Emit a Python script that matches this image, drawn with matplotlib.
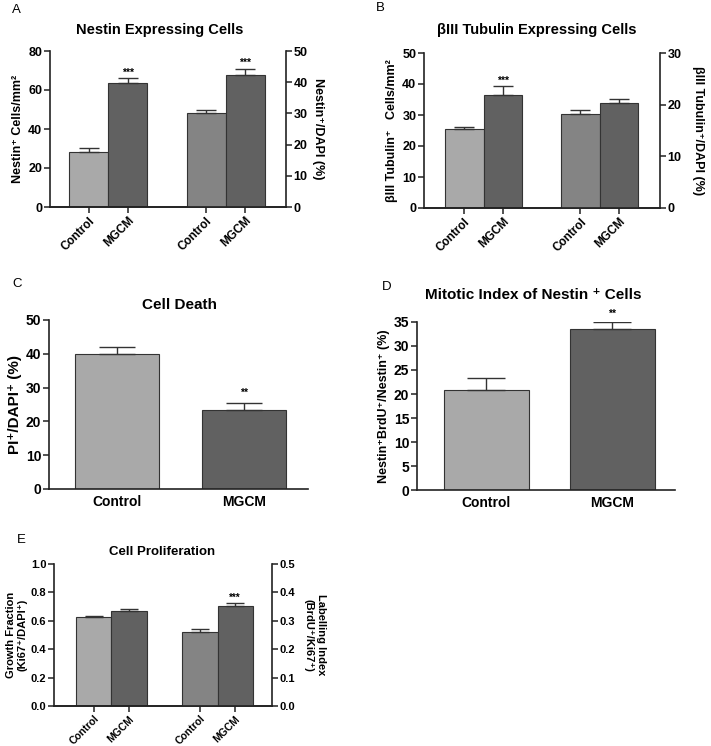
import matplotlib
matplotlib.use("Agg")
import matplotlib.pyplot as plt

plt.rcParams['font.family'] = ['Liberation Sans', 'DejaVu Sans']
plt.rcParams['font.weight'] = 'bold'
plt.rcParams['axes.labelweight'] = 'bold'

W, H = 711, 746

LIGHT = '#a9a9a9'
MID = '#848484'
DARK = '#616161'
EDGE = '#333333'

groups = ['Control', 'MGCM']

# A: Nestin expressing cells (left: cells/mm2, right: % of DAPI)
a_density = [28.0, 63.8]
a_density_err = [2.1, 2.1]
a_percent = [30.1, 42.4]
a_percent_err = [1.1, 1.9]

# B: beta III tubulin expressing cells
b_density = [25.4, 36.6]
b_density_err = [0.8, 2.6]
b_percent = [18.2, 20.3]
b_percent_err = [0.7, 0.8]

# C: cell death
c_values = [40.0, 23.4]
c_err = [2.1, 1.9]

# D: mitotic index of nestin+ cells
d_values = [20.9, 33.5]
d_err = [2.5, 1.4]

# E: cell proliferation (left: growth fraction, right: labelling index)
e_growth = [0.628, 0.671]
e_growth_err = [0.005, 0.011]
e_label = [0.260, 0.351]
e_label_err = [0.010, 0.010]


def px_axes(fig, x0, y0, x1, y1):
    return fig.add_axes([x0 / W, 1 - y1 / H, (x1 - x0) / W, (y1 - y0) / H])


def style(ax, right=False, size=9):
    ax.spines['top'].set_visible(False)
    for s in ['left', 'right', 'bottom']:
        ax.spines[s].set_linewidth(1.2)
        ax.spines[s].set_color('#222222')
    if right:
        ax.spines['left'].set_visible(False)
    else:
        ax.spines['right'].set_visible(False)
    ax.tick_params(length=4, width=1.1, labelsize=size, pad=1.5, color='#222222')


def bars(ax, pos, vals, errs, colors, width, cap):
    ax.bar(pos, vals, width=width, color=colors, edgecolor=EDGE, linewidth=0.8, zorder=2)
    ax.errorbar(pos, vals, yerr=[[0] * len(errs), errs], fmt='none', ecolor='#333333',
                elinewidth=1.0, capsize=cap, capthick=1.0, zorder=3)


def stars(ax, x, y, txt, fs=7.5):
    ax.annotate(txt, (x, y), xytext=(0, 0.5), textcoords='offset points',
                ha='center', va='bottom', fontsize=fs, annotation_clip=False)


fig = plt.figure(figsize=(W / 100, H / 100), dpi=100)

# ---------- A ----------
ax = px_axes(fig, 50, 51, 286, 207)
ax2 = ax.twinx()
bars(ax, [0, 1], a_density, a_density_err, [LIGHT, DARK], 1.0, 7)
bars(ax2, [3, 4], a_percent, a_percent_err, [MID, DARK], 1.0, 7)
ax.set_xlim(-0.99, 5.04)
ax.set_ylim(0, 80)
ax.set_yticks(range(0, 81, 20))
ax2.set_ylim(0, 50)
ax2.set_yticks(range(0, 51, 10))
style(ax)
style(ax2, right=True)
ax.set_xticks([0, 1, 3, 4])
ax.set_xticklabels(groups * 2, rotation=45, ha='right', va='top', rotation_mode='anchor', fontsize=8.5)
ax.set_ylabel('Nestin⁺ Cells/mm²', fontsize=9, labelpad=3)
ax2.set_ylabel('Nestin⁺/DAPI (%)', fontsize=9, rotation=270, labelpad=12)
stars(ax, 1, a_density[1] + a_density_err[1], '***')
stars(ax2, 4, a_percent[1] + a_percent_err[1], '***')
fig.text(160 / W, 1 - 30 / H, 'Nestin Expressing Cells', ha='center', va='center', fontsize=10.5)
fig.text(12 / W, 1 - 10 / H, 'A', ha='left', va='center', fontsize=9.5, fontweight='normal')

# ---------- B ----------
ax = px_axes(fig, 424, 53, 660, 208)
ax2 = ax.twinx()
bars(ax, [0, 1], b_density, b_density_err, [LIGHT, DARK], 1.0, 7)
bars(ax2, [3, 4], b_percent, b_percent_err, [MID, DARK], 1.0, 7)
ax.set_xlim(-1.04, 5.06)
ax.set_ylim(0, 50)
ax.set_yticks(range(0, 51, 10))
ax2.set_ylim(0, 30)
ax2.set_yticks(range(0, 31, 10))
style(ax)
style(ax2, right=True)
ax.set_xticks([0, 1, 3, 4])
ax.set_xticklabels(groups * 2, rotation=45, ha='right', va='top', rotation_mode='anchor', fontsize=8.5)
ax.set_ylabel('βIII Tubulin⁺   Cells/mm²', fontsize=9, labelpad=3)
ax2.set_ylabel('βIII Tubulin⁺/DAPI (%)', fontsize=9, rotation=270, labelpad=16)
stars(ax, 1, b_density[1] + b_density_err[1], '***')
fig.text(537 / W, 1 - 30 / H, 'βIII Tubulin Expressing Cells', ha='center', va='center', fontsize=10.5)
fig.text(376 / W, 1 - 8 / H, 'B', ha='left', va='center', fontsize=9.5, fontweight='normal')

# ---------- C ----------
ax = px_axes(fig, 49, 320, 308, 489)
bars(ax, [0, 1], c_values, c_err, [LIGHT, DARK], 0.66, 13)
ax.set_xlim(-0.53, 1.5)
ax.set_ylim(0, 50)
ax.set_yticks(range(0, 51, 10))
style(ax, size=10)
ax.set_xticks([0, 1])
ax.set_xticklabels(groups, fontsize=10)
ax.tick_params(axis='x', length=0, pad=4)
ax.set_ylabel('PI⁺/DAPI⁺ (%)', fontsize=11, labelpad=3)
stars(ax, 1, c_values[1] + c_err[1] + 1.5, '**')
fig.text(180 / W, 1 - 305 / H, 'Cell Death', ha='center', va='center', fontsize=11)
fig.text(12 / W, 1 - 284 / H, 'C', ha='left', va='center', fontsize=9.5, fontweight='normal')

# ---------- D ----------
ax = px_axes(fig, 417, 322, 675, 490)
bars(ax, [0, 1], d_values, d_err, [LIGHT, DARK], 0.675, 14)
ax.set_xlim(-0.55, 1.5)
ax.set_ylim(0, 35)
ax.set_yticks(range(0, 36, 5))
style(ax, size=10)
ax.set_xticks([0, 1])
ax.set_xticklabels(groups, fontsize=10)
ax.tick_params(axis='x', length=0, pad=4)
ax.set_ylabel('Nestin⁺BrdU⁺/Nestin⁺ (%)', fontsize=9, labelpad=3)
stars(ax, 1, d_values[1] + d_err[1] + 0.6, '**')
fig.text(533 / W, 1 - 295 / H, 'Mitotic Index of Nestin ⁺ Cells', ha='center', va='center', fontsize=11)
fig.text(382 / W, 1 - 287 / H, 'D', ha='left', va='center', fontsize=9.5, fontweight='normal')

# ---------- E ----------
ax = px_axes(fig, 54, 564, 272, 706)
ax2 = ax.twinx()
bars(ax, [0, 1], e_growth, e_growth_err, [LIGHT, DARK], 1.0, 6.5)
bars(ax2, [3, 4], e_label, e_label_err, [MID, DARK], 1.0, 6.5)
ax.set_xlim(-1.12, 5.04)
ax.set_ylim(0, 1.0)
ax.set_yticks([0.0, 0.2, 0.4, 0.6, 0.8, 1.0])
ax.set_yticklabels(['0.0', '0.2', '0.4', '0.6', '0.8', '1.0'])
ax2.set_ylim(0, 0.5)
ax2.set_yticks([0.0, 0.1, 0.2, 0.3, 0.4, 0.5])
ax2.set_yticklabels(['0.0', '0.1', '0.2', '0.3', '0.4', '0.5'])
style(ax, size=8)
style(ax2, right=True, size=8)
ax.set_xticks([0, 1, 3, 4])
ax.set_xticklabels(groups * 2, rotation=45, ha='right', va='top', rotation_mode='anchor', fontsize=7.5)
ax.set_ylabel('Growth Fraction\n(Ki67⁺/DAPI⁺)', fontsize=8, labelpad=2, linespacing=1.3)
ax2.set_ylabel('Labelling Index\n(BrdU⁺/Ki67⁺)', fontsize=8, rotation=270, labelpad=22, linespacing=1.3)
stars(ax2, 4, e_label[1] + e_label_err[1], '***', fs=7)
fig.text(162 / W, 1 - 552 / H, 'Cell Proliferation', ha='center', va='center', fontsize=9.5)
fig.text(17 / W, 1 - 540 / H, 'E', ha='left', va='center', fontsize=9.5, fontweight='normal')

fig.savefig('out.png', dpi=100)
